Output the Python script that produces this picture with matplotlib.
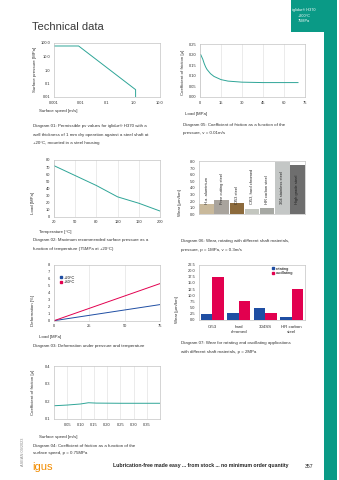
import matplotlib
matplotlib.use('Agg')
import matplotlib.pyplot as plt
from matplotlib.patches import Rectangle
from matplotlib.lines import Line2D
import numpy as np

plt.rcParams['font.family'] = ['Liberation Sans', 'DejaVu Sans']

# ---- data ----
# diagram 01: pv limit
d01_speed = [0.001, 0.0085, 1.2, 1.2]
d01_pressure = [60, 60, 0.035, 0.01]
# diagram 05: cof vs load
d05_load = [0.5, 2, 3, 4, 5, 7.5, 10, 15, 20, 30, 45, 60, 70]
d05_cof = [0.200, 0.178, 0.158, 0.142, 0.130, 0.110, 0.097, 0.082, 0.075, 0.070, 0.068, 0.068, 0.068]
# diagram 02: load vs temperature
d02_temp = ['20', '50', '80', '120', '160', '200']
d02_load = [72, 58, 44, 28, 19, 8]
# diagram 06: wear, rotating, shaft materials
d06_shafts = ['H.a. aluminium', 'Free cutting steel', 'Cf53 steel', 'Cf53, hard chromed',
              'HR carbon steel', '304 stainless steel', 'High grade steel']
d06_wear = [1.5, 2.2, 1.7, 0.8, 1.0, 7.85, 7.5]
d06_colors = ['#c9b99b', '#a9a49d', '#8c6a3c', '#c3c6bf', '#a6a8a3', '#c4c7c6', '#6e6e6e']
# diagram 03: deformation
d03_load = [0, 75]
d03_20 = [0, 2.3]
d03_80 = [0, 5.3]
# diagram 07: wear rotating / oscillating
d07_shafts = ['Cf53', 'hard\nchromed', '304SS', 'HR carbon\nsteel']
d07_rot = [2.2, 2.6, 4.6, 1.1]
d07_osc = [17.5, 7.6, 2.9, 12.5]
# diagram 04: cof vs speed
d04_speed = [0.0, 0.05, 0.10, 0.13, 0.16, 0.25, 0.40]
d04_cof = [0.175, 0.179, 0.185, 0.192, 0.190, 0.189, 0.189]

W, H = 339, 480
TEAL = '#2ea597'
GREEN = '#0a9a86'
BLUE = '#1f4ea3'
RED = '#e2004f'
TXT = '#333333'
FS_TICK = 2.9
FS_LAB = 3.2

fig = plt.figure(figsize=(W / 100, H / 100), dpi=100)


def add_ax(x0, y0, x1, y1):
    ax = fig.add_axes([x0 / W, 1 - y1 / H, (x1 - x0) / W, (y1 - y0) / H])
    ax._px = (x0, y0, x1, y1)
    for s in ax.spines.values():
        s.set_color('#c4c4c4')
        s.set_linewidth(0.5)
    ax.tick_params(length=0, labelsize=FS_TICK, colors=TXT, pad=2.6)
    ax.set_axisbelow(True)
    return ax


def labels(ax, xl, xpos, yl, ypos):
    x0, y0, x1, y1 = ax._px
    if xl:
        ax.set_xlabel(xl, fontsize=FS_LAB, color=TXT, ha='left', va='center')
        ax.xaxis.set_label_coords((xpos[0] - x0) / (x1 - x0), (y1 - xpos[1]) / (y1 - y0))
    if yl:
        ax.set_ylabel(yl, fontsize=FS_LAB, color=TXT, ha='center', va='center')
        ax.yaxis.set_label_coords((ypos[0] - x0) / (x1 - x0), (y1 - ypos[1]) / (y1 - y0))


def ftext(x, y, s, **kw):
    kw.setdefault('fontsize', FS_LAB)
    kw.setdefault('color', TXT)
    kw.setdefault('va', 'center')
    fig.text(x / W, 1 - y / H, s, **kw)


def vgrid(ax):
    ax.grid(True, axis='x', color='#dcdcdc', linewidth=0.4)


# header
ftext(32, 27, 'Technical data', fontsize=8, color='#3a3a3a')
fig.add_artist(Rectangle((291 / W, 1 - 32 / H), 46 / W, 32 / H, transform=fig.transFigure,
                         color=GREEN, lw=0))
fig.add_artist(Rectangle((324 / W, 0), 13 / W, 1, transform=fig.transFigure, color=GREEN, lw=0))
ftext(304, 10, 'iglidur® H370', fontsize=2.8, color='white', ha='center')
ftext(304, 15.7, '+200°C', fontsize=2.8, color='white', ha='center')
ftext(304, 21, '75MPa', fontsize=2.8, color='white', ha='center')

# diagram 01
ax1 = add_ax(54, 43, 160, 97)
ax1.plot(d01_speed, d01_pressure, color=TEAL, lw=0.7)
ax1.set_xscale('log')
ax1.set_yscale('log')
ax1.set_xlim(0.001, 10)
ax1.set_ylim(0.01, 100)
ax1.set_xticks([0.001, 0.01, 0.1, 1, 10], ['0.001', '0.01', '0.1', '1.0', '10.0'])
ax1.set_yticks([0.01, 0.1, 1, 10, 100], ['0.01', '0.1', '1.0', '10.0', '100.0'])
ax1.minorticks_off()
labels(ax1, 'Surface speed [m/s]', (39, 111), 'Surface pressure [MPa]', (35, 69))
ftext(33, 126, 'Diagram 01: Permissible pv values for iglidur® H370 with a')
ftext(33, 134.7, 'wall thickness of 1 mm dry operation against a steel shaft at')
ftext(33, 143.3, '+20°C, mounted in a steel housing')

# diagram 05
ax5 = add_ax(200, 44, 305, 97)
ax5.plot(d05_load, d05_cof, color=TEAL, lw=0.7)
ax5.set_xlim(0, 75)
ax5.set_ylim(0, 0.25)
ax5.set_xticks([0, 15, 30, 45, 60, 75])
ax5.set_yticks(np.arange(0, 0.26, 0.05), ['0.00', '0.05', '0.10', '0.15', '0.20', '0.25'])
vgrid(ax5)
labels(ax5, 'Load [MPa]', (185, 114), 'Coefficient of friction [µ]', (183, 72))
ftext(183, 125.3, 'Diagram 05: Coefficient of friction as a function of the')
ftext(183, 133.3, 'pressure, v = 0.01m/s')

# diagram 02
ax2 = add_ax(54, 160, 160, 216.7)
xi = np.arange(len(d02_temp))
ax2.plot(xi, d02_load, color=TEAL, lw=0.7)
ax2.set_xlim(0, len(d02_temp) - 1)
ax2.set_ylim(0, 80)
ax2.set_xticks(xi, d02_temp)
ax2.set_yticks(range(0, 81, 10))
vgrid(ax2)
labels(ax2, 'Temperature [°C]', (39, 231.7), 'Load [MPa]', (33, 203))
ftext(33, 240, 'Diagram 02: Maximum recommended surface pressure as a')
ftext(33, 249, 'function of temperature (75MPa at +20°C)')

# diagram 06
ax6 = add_ax(199, 161.4, 305, 214.3)
xb = np.arange(len(d06_shafts))
ax6.bar(xb, d06_wear, width=0.96, color=d06_colors)
for i, name in enumerate(d06_shafts):
    ax6.text(i, 1.6, name, rotation=90, ha='center', va='bottom', fontsize=2.9, color='#222222')
ax6.set_xlim(-0.5, len(d06_shafts) - 0.5)
ax6.set_ylim(0, 8)
ax6.set_xticks([])
ax6.set_yticks(range(0, 9), [f'{v:.1f}' for v in range(0, 9)])
labels(ax6, None, None, 'Wear [µm/km]', (180, 203))
ftext(181, 240.7, 'Diagram 06: Wear, rotating with different shaft materials,')
ftext(181, 250, 'pressure, p = 1MPa, v = 0.3m/s')

# diagram 03
ax3 = add_ax(54, 264.7, 160, 320.7)
ax3.plot(d03_load, d03_20, color=BLUE, lw=0.7)
ax3.plot(d03_load, d03_80, color=RED, lw=0.7)
ax3.set_xlim(0, 75)
ax3.set_ylim(0, 8)
ax3.set_xticks([0, 25, 50, 75])
ax3.set_yticks(range(0, 9))
vgrid(ax3)
h3 = [Line2D([], [], color=BLUE, marker='s', ls='none', markersize=1.6),
      Line2D([], [], color=RED, marker='s', ls='none', markersize=1.6)]
ax3.legend(h3, ['+20°C', '+80°C'], loc='center left', bbox_to_anchor=(0.04, 0.73), frameon=False,
           fontsize=FS_TICK, handlelength=0.6, handletextpad=0.4, labelspacing=0.15, borderpad=0)
labels(ax3, 'Load [MPa]', (39, 336.7), 'Deformation [%]', (33, 310))
ftext(33, 346, 'Diagram 03: Deformation under pressure and temperature')

# diagram 07
ax7 = add_ax(199, 264.5, 305, 319.7)
xc = np.arange(len(d07_shafts))
ax7.bar(xc - 0.22, d07_rot, width=0.44, color=BLUE)
ax7.bar(xc + 0.22, d07_osc, width=0.44, color=RED)
ax7.set_xlim(-0.5, len(d07_shafts) - 0.5)
ax7.set_ylim(0, 22.5)
ax7.set_xticks(xc, d07_shafts)
ax7.tick_params(axis='x', pad=4, labelsize=FS_LAB)
ax7.set_yticks(np.arange(0, 22.6, 2.5), [f'{v:.1f}' for v in np.arange(0, 22.6, 2.5)])
h7 = [Line2D([], [], color=BLUE, marker='s', ls='none', markersize=1.6),
      Line2D([], [], color=RED, marker='s', ls='none', markersize=1.6)]
ax7.legend(h7, ['rotating', 'oscillating'], loc='center left', bbox_to_anchor=(0.67, 0.885),
           frameon=False, fontsize=FS_TICK, handlelength=0.6, handletextpad=0.4,
           labelspacing=0.15, borderpad=0)
labels(ax7, None, None, 'Wear [µm/km]', (177, 310))
ftext(181, 343.3, 'Diagram 07: Wear for rotating and oscillating applications')
ftext(181, 351.7, 'with different shaft materials, p = 2MPa')

# diagram 04
ax4 = add_ax(54, 366, 160, 419)
ax4.plot(d04_speed, d04_cof, color=TEAL, lw=0.7)
ax4.set_xlim(0.0, 0.40)
ax4.set_ylim(0.1, 0.4)
xt4 = np.arange(0.05, 0.36, 0.05)
ax4.set_xticks(xt4, [f'{v:.2f}' for v in xt4])
ax4.set_yticks([0.1, 0.2, 0.3, 0.4])
vgrid(ax4)
labels(ax4, 'Surface speed [m/s]', (39, 436.7), 'Coefficient of friction [µ]', (33, 392))
ftext(33, 445.7, 'Diagram 04: Coefficient of friction as a function of the')
ftext(33, 453.3, 'surface speed, p = 0.75MPa')

# footer
ftext(23, 452, 'ASEAN 09/2023', rotation=90, ha='center', fontsize=2.8, color='#8a8a8a')
ftext(32, 467, 'igus', fontsize=8, color='#f28c00', ha='left')
ftext(113, 466, 'Lubrication-free made easy ... from stock ... no minimum order quantity',
      fontsize=3.7, color='#222222', weight='bold')
ftext(305, 466, '357', fontsize=3.7, color='#222222')

fig.savefig('out.png', dpi=100)
